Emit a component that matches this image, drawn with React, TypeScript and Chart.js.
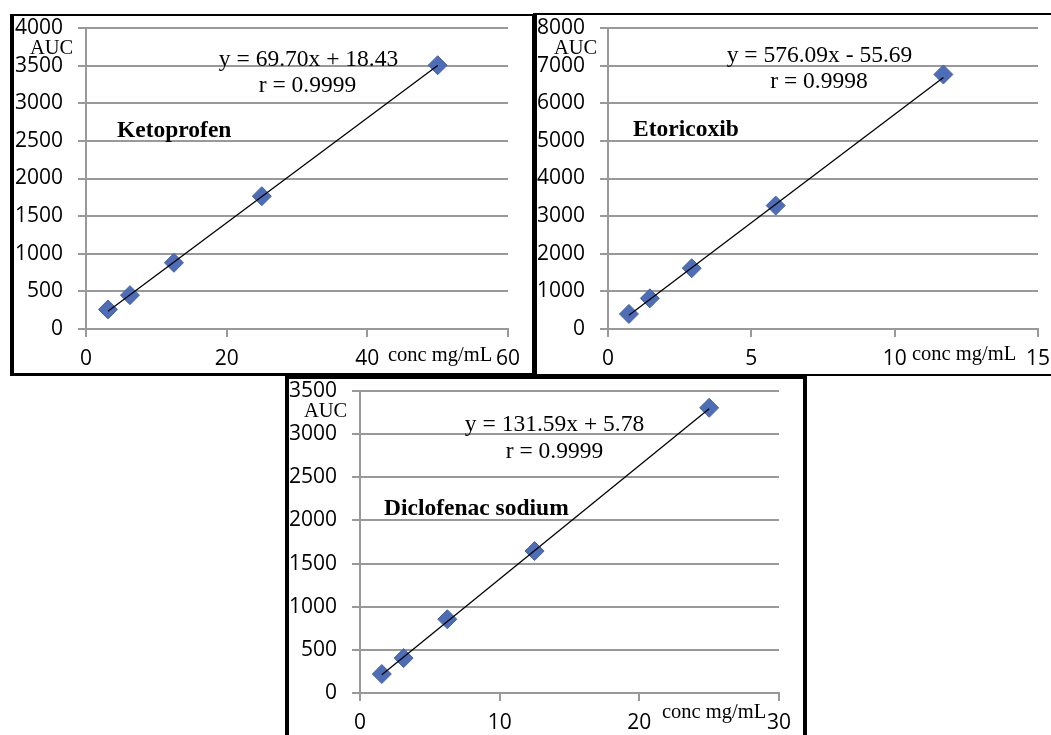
import { useEffect, useRef } from 'react';
import { Chart, registerables } from 'chart.js';

Chart.register(...registerables);

// ---------- data ----------
const ketoConc = [3.125, 6.25, 12.5, 25, 50];
const ketoAUC = [260, 450, 880, 1765, 3505];
const ketoTrendConc = [3.125, 50];
const ketoTrendAUC = [236, 3503];

const etoConc = [0.73, 1.46, 2.92, 5.85, 11.7];
const etoAUC = [400, 815, 1615, 3280, 6765];
const etoTrendConc = [0.73, 11.7];
const etoTrendAUC = [365, 6684];

const dicloConc = [1.5625, 3.125, 6.25, 12.5, 25];
const dicloAUC = [220, 405, 855, 1645, 3305];
const dicloTrendConc = [1.5625, 25];
const dicloTrendAUC = [211, 3295];

// axis ranges / tick steps
const ketoX = [0, 60, 20];
const ketoY = [0, 4000, 500];
const etoX = [0, 15, 5];
const etoY = [0, 8000, 1000];
const dicloX = [0, 30, 10];
const dicloY = [0, 3500, 500];

// text labels
const yAxisTitle = 'AUC';
const xAxisTitle = 'conc mg/mL';
const names = ['Ketoprofen', 'Etoricoxib', 'Diclofenac sodium'];
const equations = ['y = 69.70x + 18.43', 'y = 576.09x - 55.69', 'y = 131.59x + 5.78'];
const rValues = ['r = 0.9999', 'r = 0.9998', 'r = 0.9999'];

// ---------- styling ----------
const SANS = '"Open Sans", "Noto Sans", sans-serif';
const SERIF = '"Liberation Serif", "Times New Roman", serif';
const GRID = '#999999';
const MARKER = '#4E6DB7';
const MARKER_EDGE = '#4262AC';

type Note = { text: string; x: number; y: number; align: CanvasTextAlign; size: number; bold?: boolean };

type Spec = {
  box: { left: number; top: number; width: number; height: number; bt: number; br: number; bb: number; bl: number };
  canvasH: number;
  area: { left: number; right: number; top: number; bottom: number }; // page coords
  xr: number[];
  yr: number[];
  xs: number[];
  ys: number[];
  tx: number[];
  ty: number[];
  notes: Note[];
};

function notesFor(i: number, p: {
  auc: [number, number]; eq: [number, number]; r: [number, number]; name: [number, number]; conc: [number, number];
}): Note[] {
  return [
    { text: yAxisTitle, x: p.auc[0], y: p.auc[1], align: 'left', size: 20.5 },
    { text: equations[i], x: p.eq[0], y: p.eq[1], align: 'center', size: 23.5 },
    { text: rValues[i], x: p.r[0], y: p.r[1], align: 'center', size: 23.5 },
    { text: names[i], x: p.name[0], y: p.name[1], align: 'left', size: 23.5, bold: true },
    { text: xAxisTitle, x: p.conc[0], y: p.conc[1], align: 'left', size: 20.5 },
  ];
}

const specs: Spec[] = [
  {
    box: { left: 10, top: 14, width: 523, height: 362, bt: 2, br: 1, bb: 3, bl: 4 },
    canvasH: 357,
    area: { left: 86, right: 508, top: 28, bottom: 329 },
    xr: ketoX, yr: ketoY, xs: ketoConc, ys: ketoAUC, tx: ketoTrendConc, ty: ketoTrendAUC,
    notes: notesFor(0, { auc: [30, 53.5], eq: [308.5, 65.5], r: [307.5, 92], name: [117, 137], conc: [388, 361] }),
  },
  {
    box: { left: 533, top: 13, width: 530, height: 363, bt: 2, br: 0, bb: 2, bl: 4 },
    canvasH: 359,
    area: { left: 608, right: 1038, top: 28, bottom: 329 },
    xr: etoX, yr: etoY, xs: etoConc, ys: etoAUC, tx: etoTrendConc, ty: etoTrendAUC,
    notes: notesFor(1, { auc: [554, 53.5], eq: [819.5, 61.5], r: [819, 88], name: [633, 136], conc: [912, 360] }),
  },
  {
    box: { left: 285, top: 376, width: 522, height: 370, bt: 3, br: 4, bb: 0, bl: 4 },
    canvasH: 356,
    area: { left: 360, right: 779, top: 391, bottom: 693 },
    xr: dicloX, yr: dicloY, xs: dicloConc, ys: dicloAUC, tx: dicloTrendConc, ty: dicloTrendAUC,
    notes: notesFor(2, { auc: [304, 417], eq: [554.5, 431], r: [554.5, 457.5], name: [384, 515], conc: [662, 718] }),
  },
];

function Panel({ spec }: { spec: Spec }) {
  const ref = useRef<HTMLCanvasElement>(null);
  const { box } = spec;
  const cLeft = box.left + box.bl;
  const cTop = box.top + box.bt;
  const cW = Math.min(box.width - box.bl - box.br, 1051 - cLeft);
  const cH = spec.canvasH;

  useEffect(() => {
    const canvas = ref.current;
    if (!canvas) return;
    const padTop = spec.area.top - cTop;
    const padRight = cLeft + cW - spec.area.right;
    const yW = spec.area.left - cLeft;
    const xH = cTop + cH - spec.area.bottom;

    const zeroPad = (s: any) => {
      s.paddingTop = 0;
      s.paddingBottom = 0;
      s.paddingLeft = 0;
      s.paddingRight = 0;
    };

    const notesPlugin = {
      id: 'notes',
      afterDatasetsDraw(chart: Chart) {
        const ctx = chart.ctx;
        ctx.save();
        ctx.fillStyle = '#000';
        ctx.textBaseline = 'alphabetic';
        for (const n of spec.notes) {
          ctx.font = `${n.bold ? 'bold ' : ''}${n.size}px ${SERIF}`;
          ctx.textAlign = n.align;
          ctx.fillText(n.text, n.x - cLeft, n.y - cTop);
        }
        ctx.restore();
      },
    };

    const chart = new Chart(canvas, {
      type: 'scatter',
      data: {
        datasets: [
          {
            type: 'line',
            data: spec.tx.map((x, i) => ({ x, y: spec.ty[i] })),
            borderColor: '#000',
            borderWidth: 1.3,
            pointRadius: 0,
            fill: false,
            order: 0,
          } as any,
          {
            type: 'scatter',
            data: spec.xs.map((x, i) => ({ x, y: spec.ys[i] })),
            pointStyle: 'rectRot',
            pointRadius: 9.5,
            backgroundColor: MARKER,
            borderColor: MARKER_EDGE,
            borderWidth: 1,
            order: 1,
          },
        ],
      },
      options: {
        animation: false,
        responsive: false,
        devicePixelRatio: 1,
        layout: { padding: { top: padTop, right: padRight, left: 0, bottom: 0 } },
        plugins: { legend: { display: false }, tooltip: { enabled: false } },
        scales: {
          x: {
            type: 'linear',
            min: spec.xr[0],
            max: spec.xr[1],
            ticks: {
              stepSize: spec.xr[2],
              color: '#000',
              font: { family: SANS, size: 21 },
              padding: 9,
              maxRotation: 0,
              callback: (v: any) => String(v),
            },
            grid: { drawOnChartArea: false, drawTicks: true, tickLength: 8, color: GRID, lineWidth: 2 },
            border: { display: true, color: GRID, width: 2 },
            afterFit: (s: any) => { s.height = xH; zeroPad(s); },
          },
          y: {
            type: 'linear',
            min: spec.yr[0],
            max: spec.yr[1],
            ticks: {
              stepSize: spec.yr[2],
              color: '#000',
              font: { family: SANS, size: 21 },
              padding: 15,
              callback: (v: any) => String(v),
            },
            grid: { drawTicks: true, tickLength: 8, color: GRID, lineWidth: 2 },
            border: { display: true, color: GRID, width: 2 },
            afterFit: (s: any) => { s.width = yW; zeroPad(s); },
          },
        },
      },
      plugins: [notesPlugin],
    });
    return () => chart.destroy();
  }, []);

  return (
    <div
      style={{
        position: 'absolute',
        left: box.left,
        top: box.top,
        width: box.width,
        height: box.height,
        boxSizing: 'border-box',
        borderStyle: 'solid',
        borderColor: '#000',
        borderWidth: `${box.bt}px ${box.br}px ${box.bb}px ${box.bl}px`,
        background: '#fff',
      }}
    >
      <canvas ref={ref} width={cW} height={cH} style={{ display: 'block', width: cW, height: cH }} />
    </div>
  );
}

export default function App() {
  return (
    <div
      style={{
        position: 'absolute',
        left: 0,
        top: 0,
        width: 1051,
        height: 735,
        overflow: 'hidden',
        background: '#fff',
      }}
    >
      {specs.map((s, i) => (
        <Panel key={i} spec={s} />
      ))}
    </div>
  );
}
